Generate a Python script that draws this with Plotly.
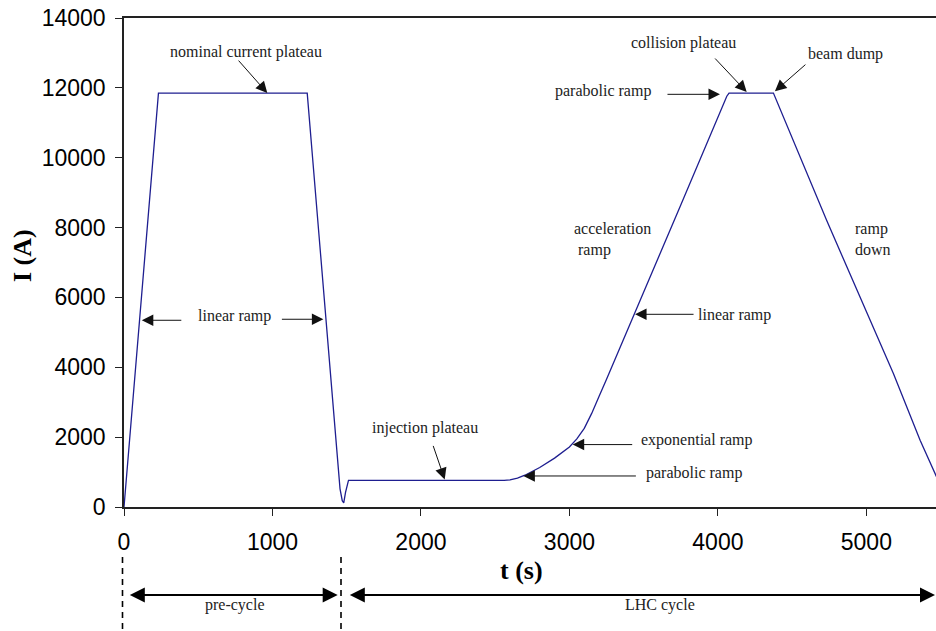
import plotly.graph_objects as go

# ---- data ----
t_s = [0, 232, 1234, 1455, 1470, 1480, 1492, 1512, 2560, 2600, 2650, 2700, 2800, 2900,
       3000, 3050, 3100, 3150, 3200, 3250, 3745, 3880, 4000, 4040, 4060, 4075, 4374,
       4733, 4958, 5182, 5362, 5475]
I_A = [0, 11850, 11850, 520, 180, 115, 420, 760, 760, 775, 830, 910, 1130, 1400,
       1720, 1950, 2250, 2680, 3170, 3660, 8596, 9934, 11120, 11540, 11760, 11850, 11850,
       8200, 6017, 3822, 1911, 840]
x_ticks = [0, 1000, 2000, 3000, 4000, 5000]
y_ticks = [0, 2000, 4000, 6000, 8000, 10000, 12000, 14000]
XMAX = 5469
YMAX = 14000

SERIF = "Liberation Serif, Times New Roman, serif"
SANS = "Liberation Sans, Arial, sans-serif"
TXT = "#222222"

fig = go.Figure()
fig.add_trace(go.Scatter(x=t_s, y=I_A, mode="lines",
                         line=dict(color="#1e1e90", width=1.3),
                         hoverinfo="skip", showlegend=False))

axis_common = dict(showgrid=False, zeroline=False, showline=True,
                   linecolor="#222222", linewidth=1.5, ticks="outside",
                   ticklen=7, tickwidth=1.3, tickcolor="#222222",
                   tickformat="d",
                   tickfont=dict(family=SANS, size=23, color="black"))

fig.update_layout(
    width=936, height=631, autosize=False,
    margin=dict(l=124, r=0, t=18, b=124),
    plot_bgcolor="white", paper_bgcolor="white",
    xaxis=dict(range=[0, XMAX], tickvals=x_ticks, mirror=True,
               ticklabelstandoff=7, **axis_common),
    yaxis=dict(range=[0, YMAX], tickvals=y_ticks, ticklabelstandoff=5,
               **axis_common),
)

ann = []

def label(text, x, y, xanchor="center", align="center", size=16):
    ann.append(dict(text=text, x=x, y=y, xref="x", yref="y", showarrow=False,
                    xanchor=xanchor, yanchor="middle", align=align,
                    font=dict(family=SERIF, size=size, color=TXT)))

def arrow(x, y, ax, ay):
    ann.append(dict(text="", x=x, y=y, xref="x", yref="y", ax=ax, ay=ay,
                    showarrow=True, arrowhead=2, arrowsize=2.3, arrowwidth=1,
                    arrowcolor="#111111", standoff=0))

label("nominal current plateau", 822, 13017)
arrow(965, 11850, -30, -34)

label("linear ramp", 741, 5461)
arrow(120, 5346, 41, 0)
arrow(1343, 5375, -43, 0)

label("injection plateau", 2025, 2253)
arrow(2160, 790, -12, -35)

label("parabolic ramp", 3842, 965)
arrow(2690, 888, 114, 0)

label("exponential ramp", 3859, 1910)
arrow(3022, 1787, 61, 0)

label("linear ramp", 4115, 5488)
arrow(3442, 5517, 60, 0)

label("acceleration<br>&nbsp;ramp", 3020, 7664, xanchor="left", align="left")
label("ramp<br>down", 4911, 7664, xanchor="left", align="left")

label("parabolic ramp", 3226, 11900)
arrow(4014, 11815, -54, 0)

label("collision plateau", 3766, 13275)
arrow(4194, 11881, -33, -35)

label("beam dump", 4859, 12961)
arrow(4384, 11901, 32, -28)

# axis titles
ann.append(dict(text="<b>I (A)</b>", x=-102 / 812, y=(507 - 255) / 489,
                xref="paper", yref="paper", showarrow=False, textangle=-90,
                xanchor="center", yanchor="middle",
                font=dict(family=SERIF, size=26, color="black")))
ann.append(dict(text="<b>t (s)</b>", x=(521 - 124) / 812, y=(507 - 570) / 489,
                xref="paper", yref="paper", showarrow=False,
                xanchor="center", yanchor="middle",
                font=dict(family=SERIF, size=26, color="black")))

# bottom: cycle spans
def px(xp):
    return (xp - 124) / 812

def py(yp):
    return (507 - yp) / 489

shapes = []
for xp in (122.5, 341):
    shapes.append(dict(type="line", xref="paper", yref="paper",
                       x0=px(xp), x1=px(xp), y0=py(557), y1=py(640),
                       line=dict(color="black", width=1.6, dash="6px,5px")))

def span(x0p, x1p, yp):
    ann.append(dict(text="", x=px(x1p), y=py(yp), ax=-(x1p - x0p), ay=0,
                    xref="paper", yref="paper",
                    showarrow=True, arrowside="end+start", arrowhead=2,
                    arrowsize=1.5, arrowwidth=2, arrowcolor="black", standoff=0,
                    startstandoff=0, startarrowhead=2, startarrowsize=1.5))

span(128.3, 337.7, 595)
span(348.3, 936, 595)
ann.append(dict(text="pre-cycle", x=px(235), y=py(605), xref="paper", yref="paper",
                showarrow=False, xanchor="center", yanchor="middle",
                font=dict(family=SERIF, size=16, color=TXT)))
ann.append(dict(text="LHC cycle", x=px(660), y=py(605), xref="paper", yref="paper",
                showarrow=False, xanchor="center", yanchor="middle",
                font=dict(family=SERIF, size=16, color=TXT)))

fig.update_layout(annotations=ann, shapes=shapes)
fig.write_html("out.html")
